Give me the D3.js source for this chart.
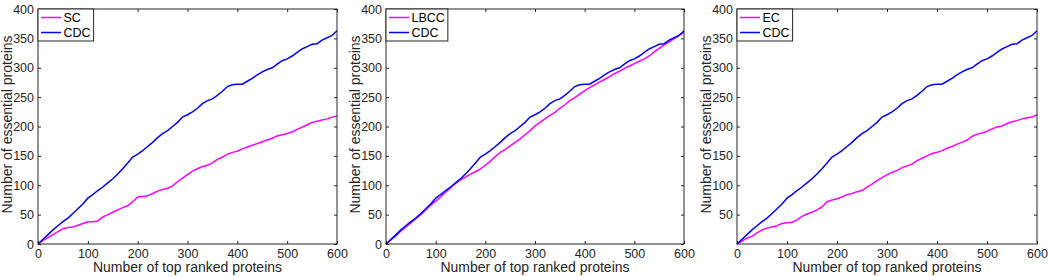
<!DOCTYPE html>
<html>
<head>
<meta charset="utf-8">
<script src="https://cdn.jsdelivr.net/npm/d3@7/dist/d3.min.js"></script>
<style>
  html, body { margin: 0; padding: 0; background: #fff; }
  svg { display: block; font-family: "Liberation Sans", Arial, Helvetica, sans-serif; }
</style>
</head>
<body>
<svg id="chart" width="1048" height="277"></svg>
<script>
// Ranks sampled every 10 proteins
const ranks = d3.range(0, 601, 10);

const cdcValues = [0, 8, 16, 24, 31, 38, 44, 52, 60, 68, 78, 84, 91, 97, 104, 111, 119, 128, 138, 148,
  153, 159, 166, 173, 181, 188, 193, 200, 207, 216, 220, 225, 231, 239, 244, 247, 253, 260, 268, 271,
  272, 272, 277, 282, 288, 293, 297, 300, 306, 312, 315, 320, 326, 332, 336, 340, 341, 347, 351, 355, 363];

const scValues = [0, 6, 11, 16, 21, 26, 28, 29, 32, 35, 38, 38, 39, 46, 50, 54, 58, 62, 65, 72,
  80, 81, 82, 86, 90, 93, 95, 99, 106, 112, 118, 124, 128, 132, 134, 138, 144, 148, 153, 156,
  158, 162, 165, 168, 171, 174, 177, 180, 184, 186, 188, 191, 195, 199, 203, 207, 209, 211, 213, 216, 218];

const lbccValues = [0, 7, 14, 22, 29, 36, 43, 50, 58, 66, 73, 80, 88, 96, 103, 109, 114, 119, 123, 128,
  134, 141, 149, 156, 161, 167, 173, 179, 186, 193, 201, 207, 213, 219, 224, 231, 237, 244, 249, 255,
  261, 266, 271, 276, 280, 285, 290, 294, 299, 303, 307, 311, 315, 320, 327, 333, 339, 344, 349, 355, 360];

const ecValues = [0, 5, 10, 13, 19, 24, 27, 29, 31, 35, 36, 37, 41, 47, 51, 54, 58, 63, 72, 75,
  77, 80, 84, 86, 89, 91, 97, 102, 108, 113, 118, 122, 125, 130, 133, 136, 142, 146, 150, 154,
  156, 159, 163, 166, 170, 173, 177, 183, 187, 189, 192, 196, 199, 201, 205, 208, 210, 213, 215, 216, 220];

const xTicks = [0, 100, 200, 300, 400, 500, 600];
const yTicksFull = [0, 50, 100, 150, 200, 250, 300, 350, 400];
const yTicksNoZero = [50, 100, 150, 200, 250, 300, 350, 400];

const panels = [
  { left: 38, right: 337, label: 'SC', values: scValues, yTicks: yTicksFull },
  { left: 386, right: 684, label: 'LBCC', values: lbccValues, yTicks: yTicksFull },
  { left: 737, right: 1037, label: 'EC', values: ecValues, yTicks: yTicksNoZero }
];

const plotTop = 9, plotBottom = 244;
const axisColor = '#262626';
const magenta = '#ff00ff';
const blue = '#0000ff';

const svg = d3.select('#chart');

panels.forEach(p => {
  const w = p.right - p.left;
  const h = plotBottom - plotTop;
  const g = svg.append('g').attr('transform', `translate(${p.left},${plotTop})`);

  const x = d3.scaleLinear().domain([0, 600]).range([0, w]);
  const y = d3.scaleLinear().domain([0, 400]).range([h, 0]);

  // white plot background
  g.append('rect').attr('width', w).attr('height', h).attr('fill', '#fff');

  // lines
  const line = d3.line().x((d, i) => x(ranks[i])).y(d => y(d));
  g.append('path').datum(p.values)
    .attr('fill', 'none').attr('stroke', magenta).attr('stroke-width', 1.5)
    .attr('d', line);
  g.append('path').datum(cdcValues)
    .attr('fill', 'none').attr('stroke', blue).attr('stroke-width', 1.5)
    .attr('d', line);

  // axes, ticks inward like MATLAB
  const styleAxis = sel => {
    sel.select('.domain').remove();
    sel.selectAll('line').attr('stroke', axisColor);
    sel.selectAll('text').attr('fill', axisColor).attr('font-size', '12.5px')
      .attr('font-family', '"Liberation Sans", Arial, Helvetica, sans-serif');
  };

  g.append('g').attr('transform', `translate(0,${h})`)
    .call(d3.axisBottom(x).tickValues(xTicks).tickSize(-3).tickPadding(5))
    .call(styleAxis);
  g.append('g')
    .call(d3.axisLeft(y).tickValues(p.yTicks).tickSize(-3).tickPadding(4))
    .call(styleAxis);
  g.append('g')
    .call(d3.axisTop(x).tickValues(xTicks).tickSize(-3).tickFormat(''))
    .call(styleAxis);
  g.append('g').attr('transform', `translate(${w},0)`)
    .call(d3.axisRight(y).tickValues(p.yTicks).tickSize(-3).tickFormat(''))
    .call(styleAxis);

  // box
  g.append('rect').attr('width', w).attr('height', h)
    .attr('fill', 'none').attr('stroke', axisColor).attr('stroke-width', 1);

  // axis labels
  g.append('text')
    .attr('x', w / 2).attr('y', 272 - plotTop)
    .attr('text-anchor', 'middle')
    .attr('font-size', '14px').attr('fill', axisColor)
    .text('Number of top ranked proteins');
  g.append('text')
    .attr('transform', `translate(-26,${h / 2 - 2}) rotate(-90)`)
    .attr('text-anchor', 'middle')
    .attr('font-size', '14px').attr('fill', axisColor)
    .text('Number of essential proteins');

  // legend
  const legend = g.append('g');
  const items = [{ label: p.label, color: magenta }, { label: 'CDC', color: blue }];
  const texts = [];
  items.forEach((it, i) => {
    const ly = 8.5 + i * 15;
    legend.append('line')
      .attr('x1', 3).attr('x2', 23).attr('y1', ly).attr('y2', ly)
      .attr('stroke', it.color).attr('stroke-width', 1.5);
    texts.push(legend.append('text')
      .attr('x', 25.5).attr('y', ly + 4.5)
      .attr('font-size', '12.5px').attr('fill', '#000')
      .text(it.label));
  });
  const tw = d3.max(texts, t => t.node().getComputedTextLength());
  legend.insert('rect', ':first-child')
    .attr('x', 0).attr('y', 0)
    .attr('width', 25.5 + tw + 3).attr('height', 32)
    .attr('fill', '#fff').attr('stroke', axisColor).attr('stroke-width', 1);
});
</script>
</body>
</html>
